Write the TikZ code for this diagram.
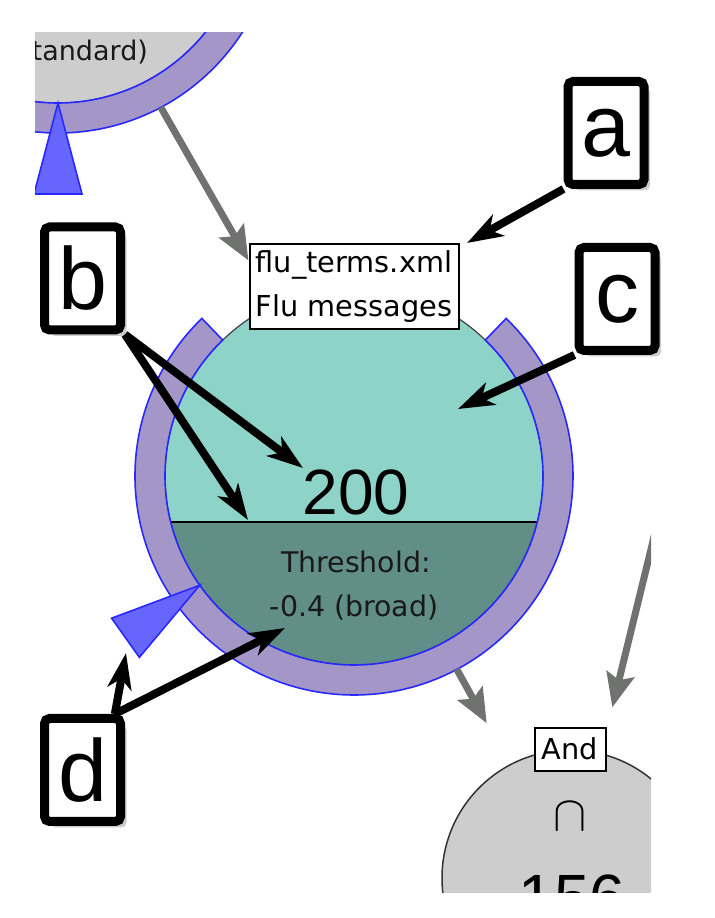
\documentclass[tikz,border=0pt]{standalone}
\usepackage{fontspec}
\setmainfont{Liberation Sans}
\newfontfamily\nodefont{DejaVu Sans}
\usetikzlibrary{arrows.meta,calc,shadows,positioning}
\definecolor{ringfill}{RGB}{164,151,199}
\definecolor{ringedge}{RGB}{40,40,255}
\definecolor{markfill}{RGB}{102,102,255}
\definecolor{hitfill}{RGB}{141,211,199}
\definecolor{restfill}{RGB}{97,142,134}
\definecolor{opfill}{RGB}{205,205,205}
\definecolor{linkgray}{RGB}{112,114,112}
\def\DiscR{94.5pt}
\def\RingR{109.5pt}
\def\MarkR{140pt}
\newcommand{\ringaround}[1]{%
  \draw[ring] ($(#1)+(46:\RingR)$) arc[start angle=46,end angle=-226,radius=\RingR]
    -- ($(#1)+(134:\DiscR)$) arc[start angle=134,end angle=406,radius=\DiscR] -- cycle;}
\newcommand{\threshmarker}[2]{%
  \draw[threshmark] ($(#1)+(#2:\DiscR)$) -- ($(#1)+(#2:\MarkR)+(#2+90:12pt)$)
    -- ($(#1)+(#2:\MarkR)+(#2-90:12pt)$) -- cycle;}
\tikzset{
  ring/.style={draw=ringedge,line width=0.8pt,fill=ringfill},
  threshmark/.style={draw=ringedge,line width=0.8pt,fill=markfill},
  hub/.style={circle,inner sep=0pt,outer sep=0pt,minimum size=219pt},
  tag/.style={draw,fill=white,line width=1pt,inner sep=0pt,align=center,
    font=\nodefont\fontsize{14.4}{22}\selectfont},
  smalltext/.style={font=\nodefont\fontsize{14.2}{22}\selectfont,anchor=base},
  bigcount/.style={font=\fontsize{32}{32}\selectfont,anchor=base},
  link/.style={draw=linkgray,line width=3.5pt,-{Stealth[length=17pt,width=14pt,inset=3pt]}},
  callout/.style={draw,line width=4.5pt,fill=white,rounded corners=2.5pt,inner sep=0pt,
    minimum width=38pt,minimum height=51.5pt,font=\fontsize{44}{44}\selectfont,
    drop shadow={shadow xshift=3pt,shadow yshift=-3pt,fill=black!40,opacity=.5}},
  pointer/.style={line width=4pt,-{Stealth[length=18pt,width=12pt,inset=5pt]}}
}
\begin{document}
\begin{tikzpicture}[x=0.5pt,y=0.5pt]
\useasboundingbox (0,0) rectangle (715,918);
\begin{scope}
\clip (35,25) rectangle (651,885);
% upstream node, only its lower edge shows
\node[hub] (src) at (58,1004) {};
\fill[opfill] (src.center) circle[radius=\DiscR];
\draw[black!75,line width=0.6pt] (src.center) circle[radius=\DiscR];
\ringaround{src.center}
\threshmarker{src.center}{270}
\node[font=\nodefont\fontsize{13.5}{16}\selectfont,text=black!90,anchor=base east] (srcnote) at (155,857) {standard)};
% main node
\node[hub] (main) at (354,442) {};
\fill[hitfill] (main.center) circle[radius=\DiscR];
\begin{scope}
  \clip (main.center) circle[radius=\DiscR];
  \fill[restfill] ($(main.center)+(-100pt,-23pt)$) rectangle ($(main.center)+(100pt,-100pt)$);
\end{scope}
\draw[black!75,line width=0.6pt] (main.center) circle[radius=\DiscR];
\draw[line width=1pt] ($(main.center)+(194.09:\DiscR)$) -- ($(main.center)+(-14.09:\DiscR)$);
\ringaround{main.center}
\threshmarker{main.center}{215.3}
\node[bigcount] (hits) at (356,403) {200};
\node[smalltext,text=black!90] (threshA) at (356,345) {Threshold:};
\node[smalltext,text=black!90] (threshB) at (354,301) {-0.4 (broad)};
\node[tag,minimum width=104.5pt,minimum height=42.5pt] (flu) at ($(main.center)+(0,\DiscR)$) {flu\_terms.xml\\Flu messages};
\draw[link] (src.-62.5) -- ([yshift=-8.5pt]flu.north west);
% and node
\node[circle,fill=opfill,draw=black!80,line width=0.75pt,minimum size=128pt] (andop) at (570,40) {};
\node[tag,minimum width=35.5pt,minimum height=21.5pt] (andtag) at (andop.north) {And};
\node[font=\fontsize{28}{28}\selectfont] (andsym) at (570,101) {$\cap$};
\node[bigcount] (andcount) at (572,-2) {156};
\coordinate (offright) at (700,569);
\draw[link,shorten >=23.5pt] (main.-62) -- (andop.118);
\draw[link,shorten >=23.5pt] (offright) -- (andop.76);
\end{scope}
% callouts
\node[callout] (a) at (606,785) {a};
\node[callout] (c) at (617,619) {c};
\node[callout] (b) at (82.5,639.5) {b};
\node[callout] (d) at (82.5,148) {d};
\coordinate (ta) at (467,675);
\coordinate (tc) at (458,509);
\coordinate (tb1) at (303,450);
\coordinate (tb2) at (248,398);
\coordinate (td1) at (285,290);
\coordinate (td2) at (126,265);
\draw[pointer] (a.south west) -- (ta);
\draw[pointer] (c.south west) -- (tc);
\draw[pointer] (b.south east) -- (tb1);
\draw[pointer] (b.south east) -- (tb2);
\draw[pointer] (d.60) -- (td1);
\draw[pointer] (d.60) -- (td2);
\end{tikzpicture}
\end{document}
